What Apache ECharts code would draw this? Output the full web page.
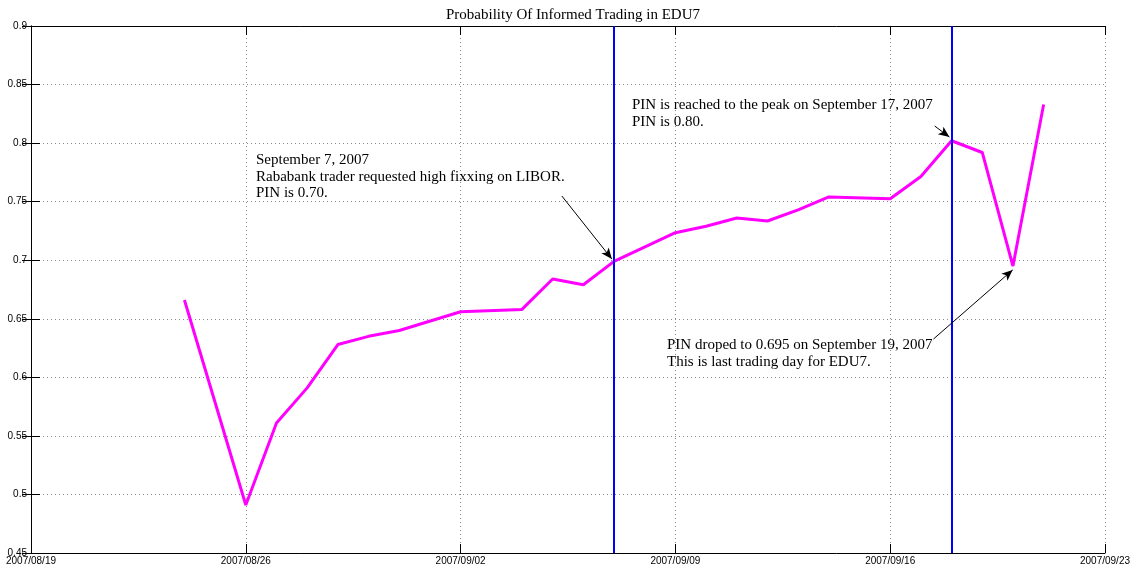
<!DOCTYPE html>
<html>
<head>
<meta charset="utf-8">
<script src="https://cdn.jsdelivr.net/npm/echarts@6/dist/echarts.min.js"></script>
<style>
  html, body { margin: 0; padding: 0; background: #fff; }
  #chart { width: 1137px; height: 569px; }
</style>
</head>
<body>
<div id="chart"></div>
<script>
// trading days and PIN values
const dates = [
  '2007-08-24', '2007-08-26', '2007-08-27', '2007-08-28', '2007-08-29', '2007-08-30',
  '2007-08-31', '2007-09-02', '2007-09-04', '2007-09-05', '2007-09-06', '2007-09-07',
  '2007-09-09', '2007-09-10', '2007-09-11', '2007-09-12', '2007-09-13', '2007-09-14',
  '2007-09-16', '2007-09-17', '2007-09-18', '2007-09-19', '2007-09-20', '2007-09-21'
]
const pin = [
  0.666, 0.491, 0.561, 0.591, 0.628, 0.635,
  0.640, 0.656, 0.658, 0.684, 0.679, 0.699,
  0.7235, 0.729, 0.736, 0.7335, 0.743, 0.754,
  0.7525, 0.7715, 0.802, 0.792, 0.695, 0.833
]
// event lines (blue)
const eventDates = ['2007-09-07', '2007-09-18']
// axis range
const startDate = '2007-08-19'
const endDate = '2007-09-23'
const yTicks = { min: 0.45, max: 0.9, step: 0.05 }

// annotation texts + arrows (arrow ends in data coords: [days from start, value])
const noteTexts = [
  'September 7, 2007\nRababank trader requested high fixxing on LIBOR.\nPIN is 0.70.',
  'PIN is reached to the peak on September 17, 2007\nPIN is 0.80.',
  'PIN droped to 0.695 on September 19, 2007\nThis is last trading day for EDU7.'
]
const notePos = [[256, 152], [632, 97], [667, 337]]
const arrows = [
  [[17.30, 0.7548], [18.93, 0.7010]],
  [[29.45, 0.8146], [29.93, 0.8052]],
  [[29.41, 0.6327], [31.99, 0.6917]]
]

const DAY = 86400000
function dayNum (s) {
  const p = s.split('-').map(Number)
  return Date.UTC(p[0], p[1] - 1, p[2]) / DAY
}
const day0 = dayNum(startDate)
const offset = (s) => dayNum(s) - day0
function fmtDay (v) {
  const d = new Date((day0 + v) * DAY)
  const mm = String(d.getUTCMonth() + 1).padStart(2, '0')
  const dd = String(d.getUTCDate()).padStart(2, '0')
  return d.getUTCFullYear() + '/' + mm + '/' + dd
}

const seriesData = dates.map((d, i) => [offset(d), pin[i]])
const xMax = offset(endDate)

const chart = echarts.init(document.getElementById('chart'))

const tickFont = { color: '#000', fontFamily: 'Liberation Sans', fontSize: 10 }
const gridLine = { show: true, lineStyle: { color: '#8a8a8a', type: [1, 3], width: 1 } }
const frameTick = { show: true, inside: true, length: 9, lineStyle: { color: '#000' } }

const markData = eventDates.map((d) => ({
  xAxis: offset(d),
  lineStyle: { color: '#0000ff', width: 2, type: 'solid' }
}))
arrows.forEach((a) => {
  markData.push([
    { coord: a[0], symbol: 'none' },
    { coord: a[1], symbol: 'arrow', symbolSize: [7, 11] }
  ])
})

const option = {
  animation: false,
  backgroundColor: '#fff',
  title: {
    text: 'Probability Of Informed Trading in EDU7',
    left: 568,
    textAlign: 'center',
    top: 3,
    textStyle: { fontFamily: 'Liberation Serif', fontWeight: 'normal', fontSize: 15, color: '#000' }
  },
  grid: { left: 31, right: 32, top: 26, bottom: 16 },
  xAxis: [
    {
      type: 'value',
      min: 0,
      max: xMax,
      interval: 7,
      axisLine: { show: true, lineStyle: { color: '#000', width: 1 } },
      axisTick: frameTick,
      axisLabel: { ...tickFont, margin: 3, formatter: fmtDay, showMinLabel: true, showMaxLabel: true },
      splitLine: gridLine
    },
    {
      type: 'value',
      position: 'top',
      min: 0,
      max: xMax,
      interval: 7,
      axisLine: { show: true, lineStyle: { color: '#000', width: 1 } },
      axisTick: frameTick,
      axisLabel: { show: false },
      splitLine: { show: false }
    }
  ],
  yAxis: [
    {
      type: 'value',
      min: yTicks.min,
      max: yTicks.max,
      interval: yTicks.step,
      axisLine: { show: true, lineStyle: { color: '#000', width: 1 } },
      axisTick: frameTick,
      axisLabel: { ...tickFont, margin: 4 },
      splitLine: gridLine
    },
    {
      type: 'value',
      position: 'right',
      min: yTicks.min,
      max: yTicks.max,
      interval: yTicks.step,
      axisLine: { show: true, lineStyle: { color: '#000', width: 1 } },
      axisTick: frameTick,
      axisLabel: { show: false },
      splitLine: { show: false }
    }
  ],
  series: [
    {
      type: 'line',
      data: seriesData,
      showSymbol: false,
      symbol: 'none',
      lineStyle: { color: '#ff00ff', width: 3 },
      z: 3,
      markLine: {
        silent: true,
        symbol: ['none', 'none'],
        label: { show: false },
        lineStyle: { color: '#000', width: 1, type: 'solid' },
        data: markData
      }
    }
  ],
  graphic: noteTexts.map((t, i) => ({
    type: 'text',
    left: notePos[i][0],
    top: notePos[i][1],
    z: 10,
    style: {
      text: t,
      fill: '#000',
      fontFamily: 'Liberation Serif',
      fontSize: 15,
      lineHeight: i === 0 ? 16.5 : 17
    }
  }))
}

chart.setOption(option)
</script>
</body>
</html>
